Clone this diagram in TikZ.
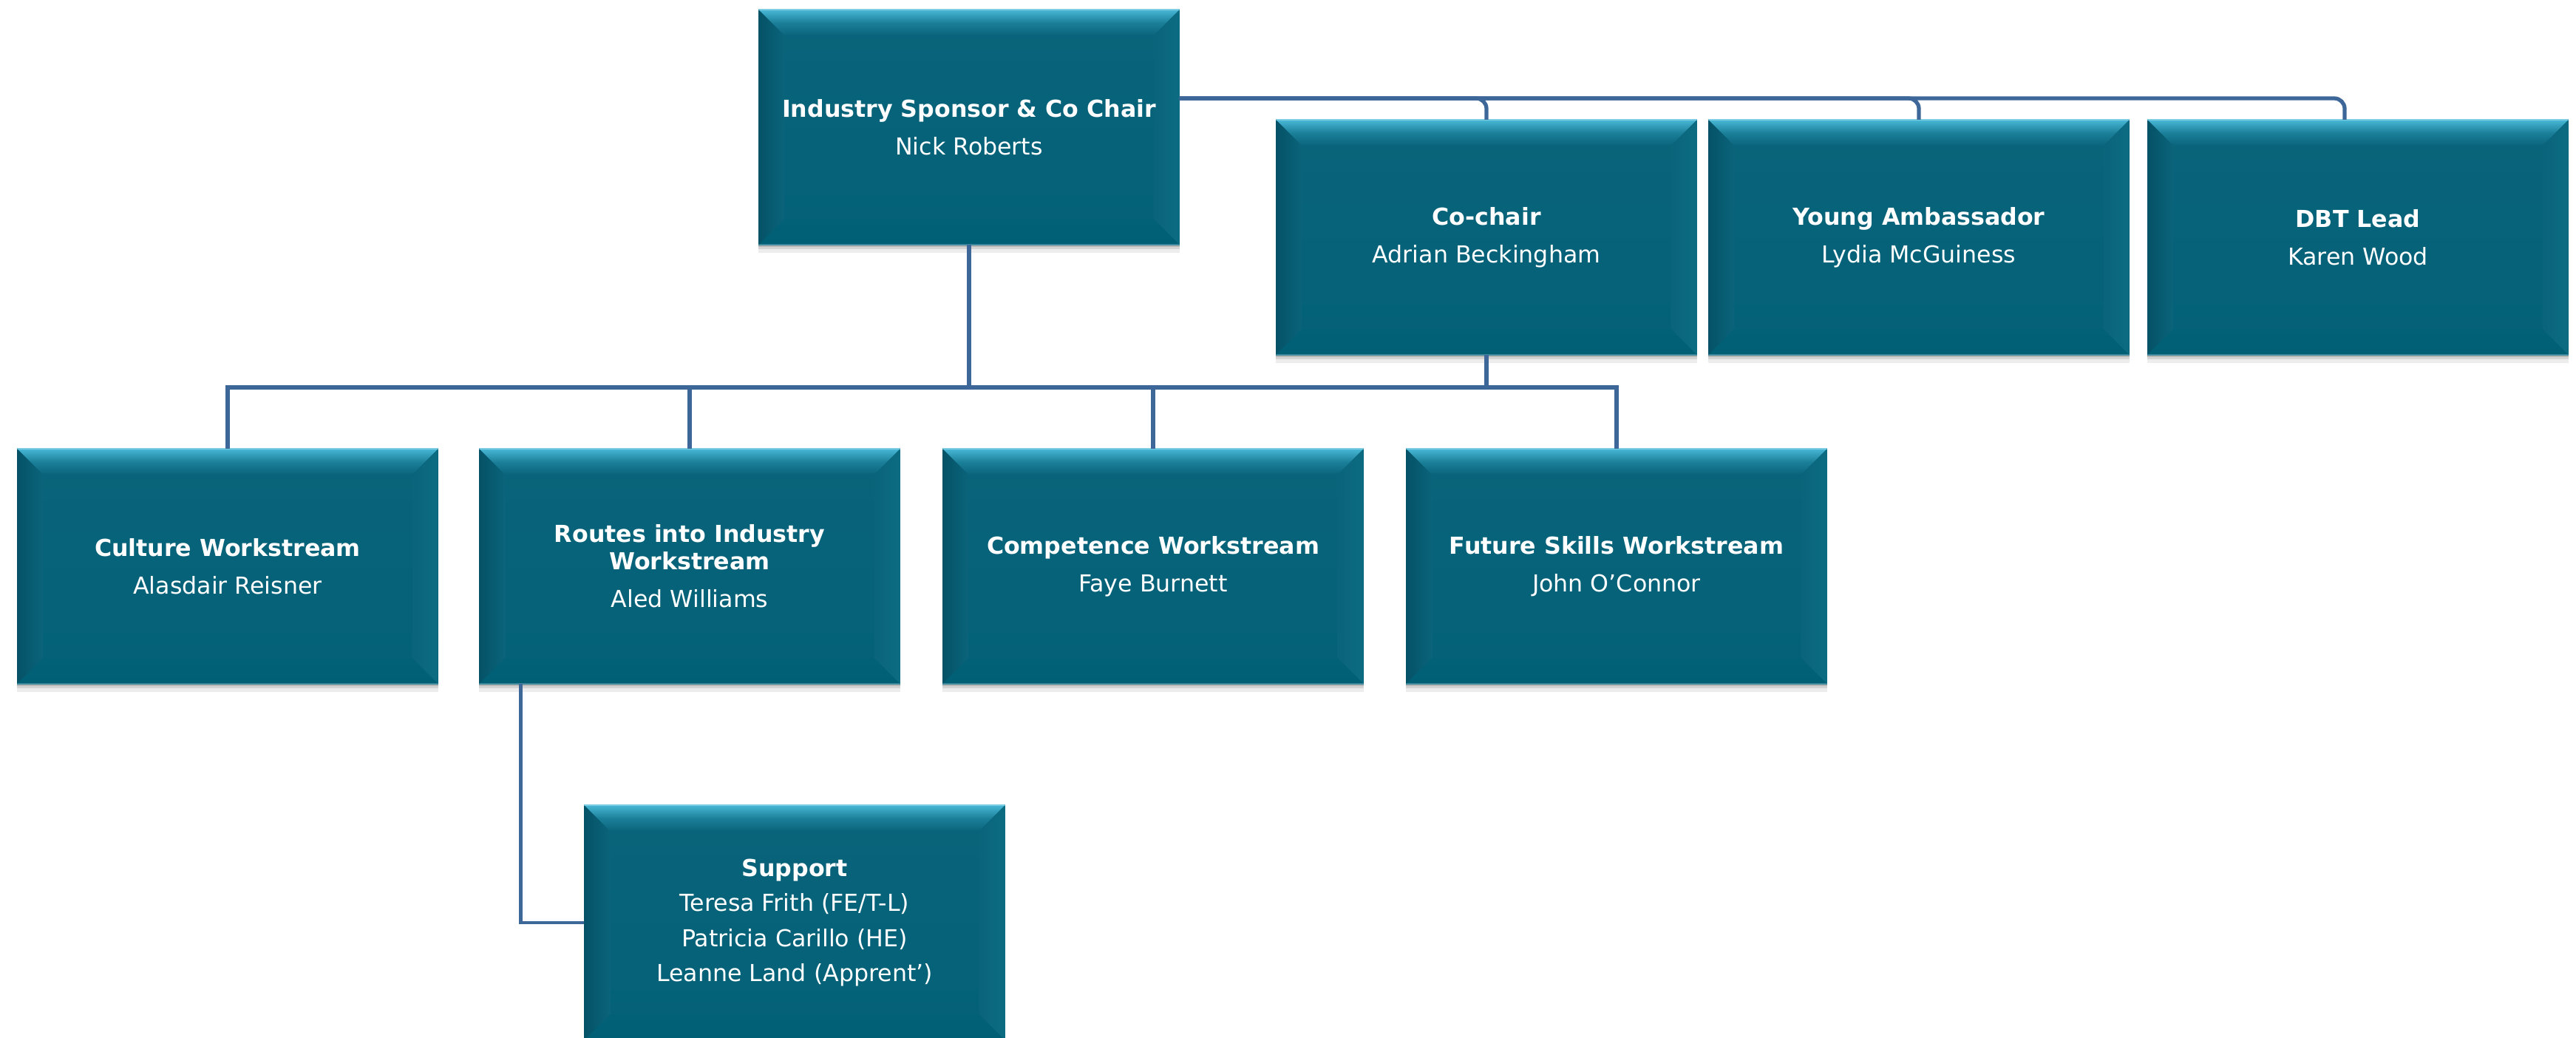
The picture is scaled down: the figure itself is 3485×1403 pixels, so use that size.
\documentclass[tikz,border=0pt]{standalone}
\usepackage{fontspec}
\setmainfont{DejaVu Sans}
\usetikzlibrary{shadows}

\definecolor{boxmain}{RGB}{10,100,123}
\definecolor{boxlow}{RGB}{3,97,119}
\definecolor{bevlight}{RGB}{72,184,214}
\definecolor{bevmid}{RGB}{28,128,154}
\definecolor{bevdark}{RGB}{5,82,102}
\definecolor{bevright}{RGB}{12,108,130}
\definecolor{bevbottom}{RGB}{0,95,117}
\definecolor{linkblue}{RGB}{62,103,153}

\tikzset{
  bevelbox/.style={
    rectangle, minimum width=5.69cm, minimum height=3.18cm,
    inner sep=0pt, outer sep=0pt, fill=boxmain,
    text=white, align=center, font=\fontsize{9pt}{10.5pt}\selectfont,
    drop shadow={shadow xshift=0pt, shadow yshift=-3pt, opacity=0.07, fill=black},
    drop shadow={shadow xshift=0pt, shadow yshift=-1.8pt, opacity=0.10, fill=black},
    drop shadow={shadow xshift=0pt, shadow yshift=-0.8pt, opacity=0.14, fill=black},
    path picture={
      \path (path picture bounding box.north west) coordinate (bnw)
            (path picture bounding box.north east) coordinate (bne)
            (path picture bounding box.south west) coordinate (bsw)
            (path picture bounding box.south east) coordinate (bse);
      % body
      \shade[top color=boxmain, bottom color=boxlow] (bnw) rectangle (bse);
      % left and right bevels
      \shade[left color=bevdark, right color=boxmain]
        (bnw) -- ([xshift=0.35cm,yshift=-0.35cm]bnw)
        -- ([xshift=0.35cm,yshift=0.35cm]bsw) -- (bsw) -- cycle;
      \shade[left color=boxmain, right color=bevright]
        (bne) -- ([xshift=-0.35cm,yshift=-0.35cm]bne)
        -- ([xshift=-0.35cm,yshift=0.35cm]bse) -- (bse) -- cycle;
      % bottom bevel
      \shade[top color=boxlow, bottom color=bevbottom]
        (bsw) -- ([xshift=0.35cm,yshift=0.35cm]bsw)
        -- ([xshift=-0.35cm,yshift=0.35cm]bse) -- (bse) -- cycle;
      % top bevel
      \shade[top color=bevlight, bottom color=boxmain, middle color=bevmid]
        (bnw) -- (bne) -- ([xshift=-0.35cm,yshift=-0.35cm]bne)
        -- ([xshift=0.35cm,yshift=-0.35cm]bnw) -- cycle;
      \draw[bevlight!70!white, line width=0.8pt] (bnw) -- (bne);
      \draw[bevright!80!white, line width=0.5pt] (bsw) -- (bse);
    }
  },
  link/.style={draw=linkblue, line width=1.5pt},
  toplink/.style={link, rounded corners=4pt}
}

\begin{document}
\begin{tikzpicture}[x=0.01cm, y=-0.01cm]
  \clip (0,0) rectangle (3485,1403);
  \fill[white] (0,0) rectangle (3485,1403);

  % connector levels
  \coordinate (upbus) at (0,133);
  \coordinate (bus) at (0,524);

  % top row
  \node[bevelbox] (sponsor) at (1311,172)
    {\textbf{Industry Sponsor \& Co Chair}\\[4pt]Nick Roberts};
  \node[bevelbox] (cochair) at (2011,321)
    {\textbf{Co-chair}\\[4pt]Adrian Beckingham};
  \node[bevelbox] (young) at (2596,321)
    {\textbf{Young Ambassador}\\[4pt]Lydia McGuiness};
  \node[bevelbox] (dbt) at (3190,321)
    {\textbf{DBT Lead}\\[4pt]Karen Wood};

  % workstreams
  \node[bevelbox] (culture) at (308,766)
    {\textbf{Culture Workstream}\\[4pt]Alasdair Reisner};
  \node[bevelbox] (routes) at (933,766)
    {\textbf{Routes into Industry}\\\textbf{Workstream}\\[4pt]Aled Williams};
  \node[bevelbox] (competence) at (1560,766)
    {\textbf{Competence Workstream}\\[4pt]Faye Burnett};
  \node[bevelbox] (future) at (2187,766)
    {\textbf{Future Skills Workstream}\\[4pt]John O’Connor};

  % support
  \node[bevelbox] (support) at (1075,1248)
    {\textbf{Support}\\[3pt]Teresa Frith (FE/T-L)\\[3pt]Patricia Carillo (HE)\\[3pt]Leanne Land (Apprent’)};

  % links to the top row
  \draw[toplink] (sponsor.east |- upbus) -| (cochair.north);
  \draw[toplink] (sponsor.east |- upbus) -| (young.north);
  \draw[toplink] (sponsor.east |- upbus) -| ([xshift=-0.18cm]dbt.north);

  % links to the workstreams
  \foreach \ws in {culture,routes,competence,future}
    \draw[link] (sponsor.south) -- (sponsor.south |- bus) -| (\ws.north);
  \draw[link] (cochair.south) -- (cochair.south |- bus) -| (future.north);

  % link to support
  \draw[link, line width=1.3pt] ([xshift=0.56cm]routes.south west) |- (support.west);
\end{tikzpicture}
\end{document}
